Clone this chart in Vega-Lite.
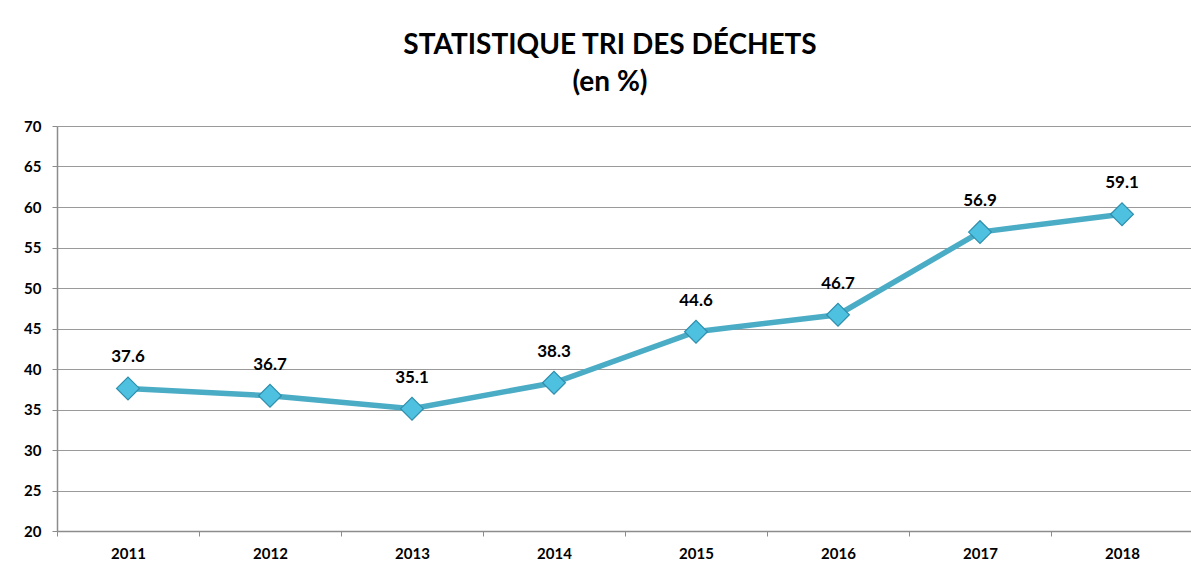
{
  "$schema": "https://vega.github.io/schema/vega-lite/v6.json",
  "width": 1136,
  "height": 405,
  "autosize": {"type": "none"},
  "padding": {"left": 57, "top": 126, "right": 0, "bottom": 41},
  "background": "white",
  "title": {
    "text": ["STATISTIQUE TRI DES DÉCHETS", "(en %)"],
    "font": "Lato",
    "fontSize": 28,
    "fontWeight": "bold",
    "color": "#000000",
    "anchor": "middle",
    "frame": "group",
    "dx": -15,
    "offset": 22,
    "lineHeight": 37
  },
  "data": {
    "values": [
      {"year": "2011", "value": 37.6},
      {"year": "2012", "value": 36.7},
      {"year": "2013", "value": 35.1},
      {"year": "2014", "value": 38.3},
      {"year": "2015", "value": 44.6},
      {"year": "2016", "value": 46.7},
      {"year": "2017", "value": 56.9},
      {"year": "2018", "value": 59.1}
    ]
  },
  "encoding": {
    "x": {
      "field": "year",
      "type": "ordinal",
      "scale": {"type": "band", "paddingInner": 0, "paddingOuter": 0},
      "axis": {
        "title": null,
        "labelAngle": 0,
        "labelFont": "Lato",
        "labelFontSize": 15,
        "labelFontWeight": "bold",
        "labelColor": "#000000",
        "labelPadding": 10,
        "tickBand": "extent",
        "tickSize": 5,
        "tickColor": "#8c8c8c",
        "domainColor": "#8c8c8c",
        "domainWidth": 1.5,
        "grid": false
      }
    },
    "y": {
      "field": "value",
      "type": "quantitative",
      "scale": {"domain": [20, 70], "nice": false, "zero": false},
      "axis": {
        "title": null,
        "values": [20, 25, 30, 35, 40, 45, 50, 55, 60, 65, 70],
        "labelFont": "Lato",
        "labelFontSize": 15,
        "labelFontWeight": "bold",
        "labelColor": "#000000",
        "labelPadding": 11,
        "tickSize": 5,
        "tickColor": "#8c8c8c",
        "domainColor": "#8c8c8c",
        "domainWidth": 1.5,
        "grid": true,
        "gridColor": "#9a9a9a",
        "gridWidth": 1.2
      }
    }
  },
  "layer": [
    {
      "mark": {"type": "line", "color": "#4BACC6", "strokeWidth": 5.5}
    },
    {
      "mark": {
        "type": "point",
        "shape": "diamond",
        "size": 520,
        "filled": true,
        "fill": "#4FC1E0",
        "stroke": "#2E8FAD",
        "strokeWidth": 1.2,
        "opacity": 1
      }
    },
    {
      "mark": {
        "type": "text",
        "font": "Lato",
        "fontSize": 17,
        "fontWeight": "bold",
        "color": "#000000",
        "baseline": "middle",
        "dy": -31
      },
      "encoding": {"text": {"field": "value", "type": "quantitative", "format": ".1f"}}
    }
  ],
  "config": {"view": {"stroke": null}}
}
